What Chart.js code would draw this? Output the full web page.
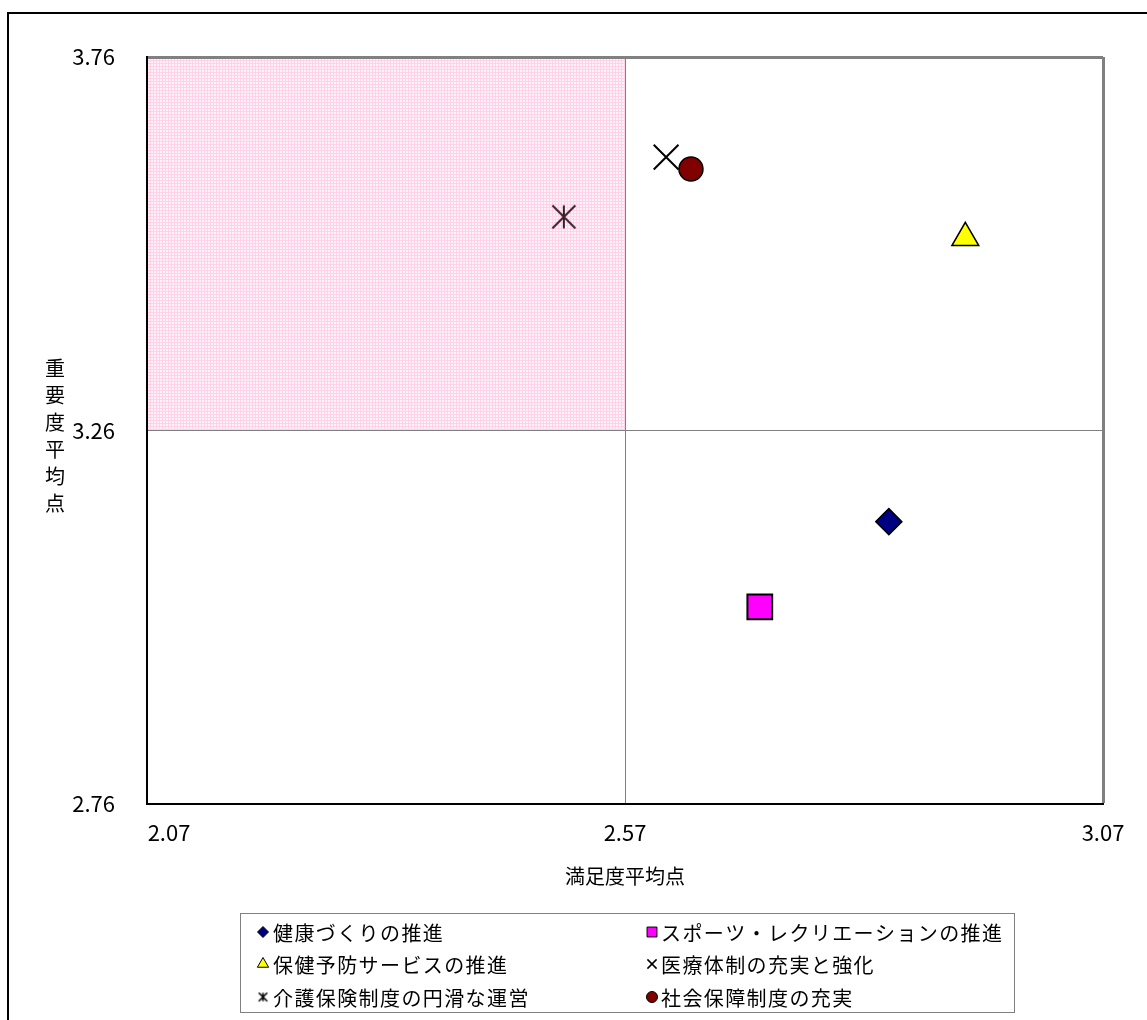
<!DOCTYPE html>
<html lang="ja">
<head>
<meta charset="utf-8">
<script src="https://cdn.jsdelivr.net/npm/chart.js@4/dist/chart.umd.min.js"></script>
<style>
  html, body { margin: 0; padding: 0; background: #fff; }
  #wrap { width: 1147px; height: 1020px; }
</style>
</head>
<body>
<div id="wrap"><canvas id="chart" width="1147" height="1020"></canvas></div>
<script>
// data
const itemNames = [
  '健康づくりの推進',
  'スポーツ・レクリエーションの推進',
  '保健予防サービスの推進',
  '医療体制の充実と強化',
  '介護保険制度の円滑な運営',
  '社会保障制度の充実'
];
const satisfaction = [2.846, 2.711, 2.926, 2.613, 2.506, 2.639];
const importance   = [3.138, 3.024, 3.518, 3.626, 3.546, 3.610];

const xTicks = [2.07, 2.57, 3.07];
const yTicks = [2.76, 3.26, 3.76];
const xTitle = '満足度平均点';
const yTitle = '重要度平均点';

// the shaded quadrant (low satisfaction / high importance)
const shadeX = [2.07, 2.57];
const shadeY = [3.26, 3.76];

const FONT = '"Noto Sans CJK JP", "Noto Sans CJK SC", sans-serif';
Chart.defaults.font.family = FONT;
Chart.defaults.color = '#000';

function makeAsterisk(size, color, lw) {
  const c = document.createElement('canvas');
  c.width = size; c.height = size;
  const g = c.getContext('2d');
  g.strokeStyle = color;
  g.lineWidth = lw;
  const m = lw / 2 + 0.5;
  g.beginPath();
  g.moveTo(size / 2, m); g.lineTo(size / 2, size - m);
  g.moveTo(m, m); g.lineTo(size - m, size - m);
  g.moveTo(size - m, m); g.lineTo(m, size - m);
  g.stroke();
  return c;
}

const asteriskBig = makeAsterisk(26, '#3a1e28', 2);
const asteriskSmall = makeAsterisk(11, '#000', 1.5);

// marker look for each item
const markers = [
  { style: 'rectRot', radius: 13, fill: '#000080', border: '#000', bw: 1.5, lr: 5.5 },
  { style: 'rect', radius: 17.5, fill: '#ff00ff', border: '#000', bw: 2, lr: 7 },
  { style: 'triangle', radius: 15.5, fill: '#ffff00', border: '#000', bw: 1.5, lr: 6.5 },
  { style: 'crossRot', radius: 17.5, fill: '#000', border: '#000', bw: 2, lr: 6.5 },
  { style: asteriskBig, small: asteriskSmall, radius: 13, fill: '#000', border: '#3a1e28', bw: 0, lr: 5 },
  { style: 'circle', radius: 12, fill: '#800000', border: '#000', bw: 1.5, lr: 5.5 }
];

function makePattern(ctx) {
  const t = document.createElement('canvas');
  t.width = 3; t.height = 3;
  const g = t.getContext('2d');
  g.fillStyle = '#fff2f8';
  g.fillRect(0, 0, 3, 3);
  g.fillStyle = '#ffd2e8';
  g.fillRect(0, 0, 3, 1);
  g.fillRect(0, 0, 1, 3);
  return ctx.createPattern(t, 'repeat');
}

const backdrop = {
  id: 'backdrop',
  beforeDraw(chart) {
    const { ctx, scales: { x, y } } = chart;
    ctx.save();
    // outer frame, only top and left reach into the picture
    ctx.strokeStyle = '#000';
    ctx.lineWidth = 2;
    ctx.beginPath();
    ctx.moveTo(8, 1020);
    ctx.lineTo(8, 13);
    ctx.lineTo(1147, 13);
    ctx.stroke();
    // shaded quadrant
    const x0 = x.getPixelForValue(shadeX[0]), x1 = x.getPixelForValue(shadeX[1]);
    const y0 = y.getPixelForValue(shadeY[1]), y1 = y.getPixelForValue(shadeY[0]);
    ctx.fillStyle = makePattern(ctx);
    ctx.fillRect(x0, y0, x1 - x0, y1 - y0);
    ctx.restore();
  },
  afterDraw(chart) {
    const ctx = chart.ctx;
    ctx.save();
    // vertical y title
    ctx.font = '20px ' + FONT;
    ctx.fillStyle = '#000';
    ctx.textAlign = 'center';
    ctx.textBaseline = 'middle';
    [...yTitle].forEach((ch, i) => ctx.fillText(ch, 55, 368 + i * 27));

    // legend
    ctx.strokeStyle = '#808080';
    ctx.lineWidth = 1;
    ctx.strokeRect(240.5, 913.5, 774, 99);
    const colX = [263, 652];
    const textX = [273, 661];
    const rowY = [932, 964, 997];
    ctx.textAlign = 'left';
    ctx.letterSpacing = '1.4px';
    itemNames.forEach((name, i) => {
      const col = i % 2, row = Math.floor(i / 2);
      const m = markers[i];
      const mx = colX[col], my = rowY[row];
      if (m.small) {
        ctx.drawImage(m.small, mx - m.small.width / 2, my - m.small.height / 2);
      } else {
        ctx.fillStyle = m.fill;
        ctx.strokeStyle = m.border;
        ctx.lineWidth = m.style === 'crossRot' ? 1.5 : 1;
        Chart.helpers.drawPoint(ctx, { pointStyle: m.style, radius: m.lr, rotation: 0, borderWidth: ctx.lineWidth }, mx, my);
      }
      ctx.fillStyle = '#000';
      ctx.fillText(name, textX[col], my + 1);
    });
    ctx.restore();
  }
};

const datasets = itemNames.map((name, i) => ({
  label: name,
  data: [{ x: satisfaction[i], y: importance[i] }],
  pointStyle: markers[i].style,
  pointRadius: markers[i].radius,
  pointHoverRadius: markers[i].radius,
  backgroundColor: markers[i].fill,
  borderColor: markers[i].border,
  borderWidth: markers[i].bw
}));

const xMax = xTicks[xTicks.length - 1];
const yMax = yTicks[yTicks.length - 1];

new Chart(document.getElementById('chart'), {
  type: 'scatter',
  data: { datasets },
  options: {
    responsive: false,
    animation: false,
    layout: { padding: { top: 57, right: 44, bottom: 126, left: 0 } },
    plugins: { legend: { display: false }, tooltip: { enabled: false } },
    scales: {
      x: {
        type: 'linear',
        min: xTicks[0],
        max: xMax,
        afterBuildTicks: s => { s.ticks = xTicks.map(v => ({ value: v })); },
        afterFit: s => { s.height = 90; },
        ticks: {
          autoSkip: false,
          maxRotation: 0,
          padding: 15,
          font: { size: 22 },
          color: '#000',
          // first label sits a bit right of its gridline
          callback: (v, i) => (i === 0 ? '\u2003\u2003' : '') + Number(v).toFixed(2)
        },
        grid: {
          color: '#808080',
          lineWidth: c => (c.tick && c.tick.value === xMax ? 3 : 1),
          drawTicks: false
        },
        border: { color: '#000', width: 2 },
        title: { display: true, text: xTitle, font: { size: 20 }, color: '#000', padding: { top: 0, bottom: 6 } }
      },
      y: {
        type: 'linear',
        min: yTicks[0],
        max: yMax,
        afterBuildTicks: s => { s.ticks = yTicks.map(v => ({ value: v })); },
        afterFit: s => { s.width = 147; },
        ticks: {
          padding: 32,
          font: { size: 22 },
          color: '#000',
          callback: v => Number(v).toFixed(2)
        },
        grid: {
          color: '#808080',
          lineWidth: c => (c.tick && c.tick.value === yMax ? 3 : 1),
          drawTicks: false
        },
        border: { color: '#000', width: 2 }
      }
    }
  },
  plugins: [backdrop]
});
</script>
</body>
</html>
